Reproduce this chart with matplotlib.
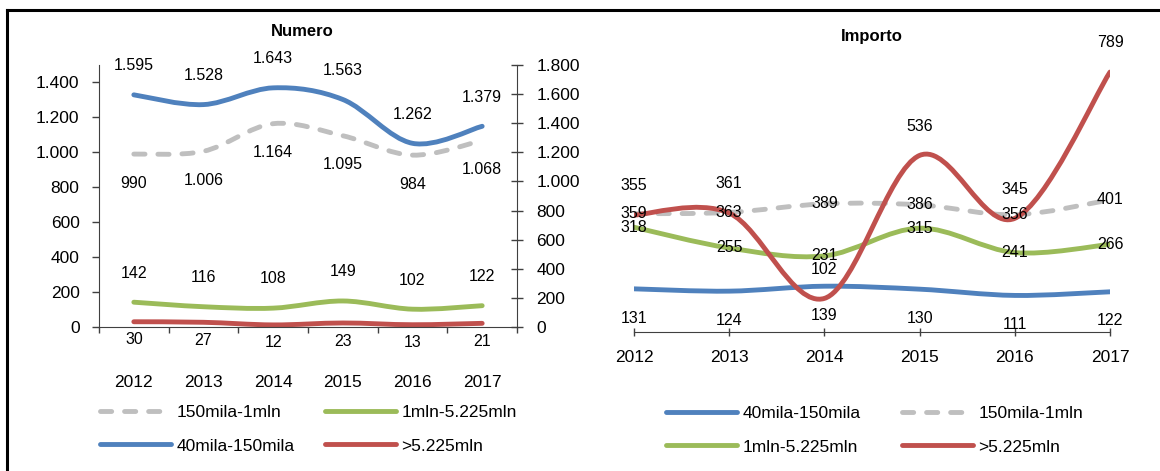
import numpy as np
import matplotlib
matplotlib.use('Agg')
import matplotlib.pyplot as plt
from matplotlib.path import Path
from matplotlib.patches import PathPatch
from matplotlib.lines import Line2D

plt.rcParams['font.family'] = ['Liberation Sans Narrow', 'Liberation Sans', 'DejaVu Sans']

# Dati
anni = ['2012', '2013', '2014', '2015', '2016', '2017']

# Numero
num_40_150 = [1595, 1528, 1643, 1563, 1262, 1379]   # asse destro
num_150_1m = [990, 1006, 1164, 1095, 984, 1068]
num_1m_5m = [142, 116, 108, 149, 102, 122]
num_5m = [30, 27, 12, 23, 13, 21]

# Importo
imp_40_150 = [131, 124, 139, 130, 111, 122]
imp_150_1m = [359, 363, 389, 386, 356, 401]
imp_1m_5m = [318, 255, 231, 315, 241, 266]
imp_5m = [355, 361, 102, 536, 345, 789]

colori = {'40mila-150mila': '#4F81BD', '150mila-1mln': '#BFBFBF',
          '1mln-5.225mln': '#9BBB59', '>5.225mln': '#C0504D'}
stili = {'40mila-150mila': '-', '150mila-1mln': (0, (2.3, 2.65)),
         '1mln-5.225mln': '-', '>5.225mln': '-'}
LW = 3.5
ASSE = '#404040'
FS = 12.5      # assi e legenda
FS_ETI = 11.5  # etichette dati


def fmt(v):
    return f'{int(v):,}'.replace(',', '.')


def curva(ax, y, nome, z=2):
    # linea smussata stile Excel (Bezier)
    p = np.column_stack([np.arange(len(y)), np.asarray(y, float)])
    n = len(p)
    verts, codes = [p[0]], [Path.MOVETO]
    for i in range(n - 1):
        p0 = p[i - 1] if i > 0 else p[i]
        p3 = p[i + 2] if i + 2 < n else p[i + 1]
        verts += [p[i] + (p[i + 1] - p0) / 6, p[i + 1] - (p3 - p[i]) / 6, p[i + 1]]
        codes += [Path.CURVE4] * 3
    patch = PathPatch(Path(verts, codes), fill=False, edgecolor=colori[nome], lw=LW,
                      linestyle=stili[nome], capstyle='round', joinstyle='round', zorder=z)
    ax.add_patch(patch)


def etichette(ax, y, dy):
    for i, v in enumerate(y):
        ax.annotate(fmt(v), (i, v), xytext=(0, dy), textcoords='offset points',
                    ha='center', va='center', fontsize=FS_ETI, zorder=5)


fig = plt.figure(figsize=(11.6, 4.71), dpi=100)
W, H = 1160, 471

# ---- Numero ----
ax1 = fig.add_axes([99 / W, 1 - 327 / H, (517 - 99) / W, (327 - 65) / H])
ax2 = ax1.twinx()
ax1.set_xlim(-0.5, 5.5)
ax1.set_ylim(0, 1500)
ax2.set_ylim(0, 1800)
ax1.set_yticks(range(0, 1401, 200))
ax1.set_yticklabels([fmt(v) for v in range(0, 1401, 200)])
ax2.set_yticks(range(0, 1801, 200))
ax2.set_yticklabels([fmt(v) for v in range(0, 1801, 200)])
ax1.set_xticks(range(6))
ax1.set_xticklabels(anni)
ax1.set_xticks(np.arange(-0.5, 6, 1), minor=True)
ax1.tick_params(axis='x', which='major', length=0, pad=34.5, labelsize=FS)
ax1.tick_params(axis='x', which='minor', length=4.5, width=1, direction='out', color=ASSE)
ax1.tick_params(axis='y', length=5, width=1, direction='out', pad=9, labelsize=FS, color=ASSE)
ax2.tick_params(axis='y', length=8, width=1, direction='inout', pad=10, labelsize=FS, color=ASSE)
for s in ['top', 'right']:
    ax1.spines[s].set_visible(False)
for s in ['top', 'left', 'bottom']:
    ax2.spines[s].set_visible(False)
for s in ['left', 'bottom']:
    ax1.spines[s].set_color(ASSE)
ax2.spines['right'].set_color(ASSE)

curva(ax1, num_150_1m, '150mila-1mln')
curva(ax1, num_1m_5m, '1mln-5.225mln')
curva(ax1, num_5m, '>5.225mln')
curva(ax2, num_40_150, '40mila-150mila')
etichette(ax1, num_150_1m, -21)
etichette(ax1, num_1m_5m, 21)
etichette(ax1, num_5m, -13)
etichette(ax2, num_40_150, 21)

fig.text(302 / W, 1 - 31 / H, 'Numero', ha='center', va='center', fontsize=12, fontweight='bold')

# ---- Importo ----
ax3 = fig.add_axes([634 / W, 1 - 332 / H, (1110 - 634) / W, (332 - 35.5) / H])
ax3.set_xlim(0, 5)
ax3.set_ylim(0, 900)
ax3.set_xticks(range(6))
ax3.set_xticklabels(anni)
ax3.set_yticks([])
ax3.tick_params(axis='x', length=6, width=1, direction='inout', pad=10, labelsize=FS, color=ASSE)
for s in ['top', 'left', 'right']:
    ax3.spines[s].set_visible(False)
ax3.spines['bottom'].set_color(ASSE)

curva(ax3, imp_40_150, '40mila-150mila')
curva(ax3, imp_150_1m, '150mila-1mln')
curva(ax3, imp_1m_5m, '1mln-5.225mln')
curva(ax3, imp_5m, '>5.225mln')
etichette(ax3, imp_40_150, -21)
etichette(ax3, imp_150_1m, 0)
etichette(ax3, imp_1m_5m, 0)
etichette(ax3, imp_5m, 21)

fig.text(872 / W, 1 - 37 / H, 'Importo', ha='center', va='center', fontsize=12, fontweight='bold')


# ---- Legende ----
def maniglia(nome):
    return Line2D([], [], color=colori[nome], lw=LW, linestyle=stili[nome],
                  dash_capstyle='round', solid_capstyle='round')


ord1 = ['150mila-1mln', '40mila-150mila', '1mln-5.225mln', '>5.225mln']
fig.legend([maniglia(n) for n in ord1], ord1, ncol=2, loc='upper left',
           bbox_to_anchor=(100 / W, 1 - 405 / H), frameon=False, fontsize=FS,
           handlelength=4.1, handletextpad=0.3, columnspacing=1.75, labelspacing=1.05,
           borderpad=0, borderaxespad=0)
ord2 = ['40mila-150mila', '1mln-5.225mln', '150mila-1mln', '>5.225mln']
fig.legend([maniglia(n) for n in ord2], ord2, ncol=2, loc='upper left',
           bbox_to_anchor=(666 / W, 1 - 406 / H), frameon=False, fontsize=FS,
           handlelength=4.1, handletextpad=0.3, columnspacing=2.4, labelspacing=1.05,
           borderpad=0, borderaxespad=0)

# cornice
fig.add_artist(Line2D([7 / W, 7 / W], [0, 1 - 10 / H], color='black', lw=2.2, transform=fig.transFigure))
fig.add_artist(Line2D([7 / W, 1], [1 - 10 / H, 1 - 10 / H], color='black', lw=2.2, transform=fig.transFigure))

fig.savefig('out.png', dpi=100)
